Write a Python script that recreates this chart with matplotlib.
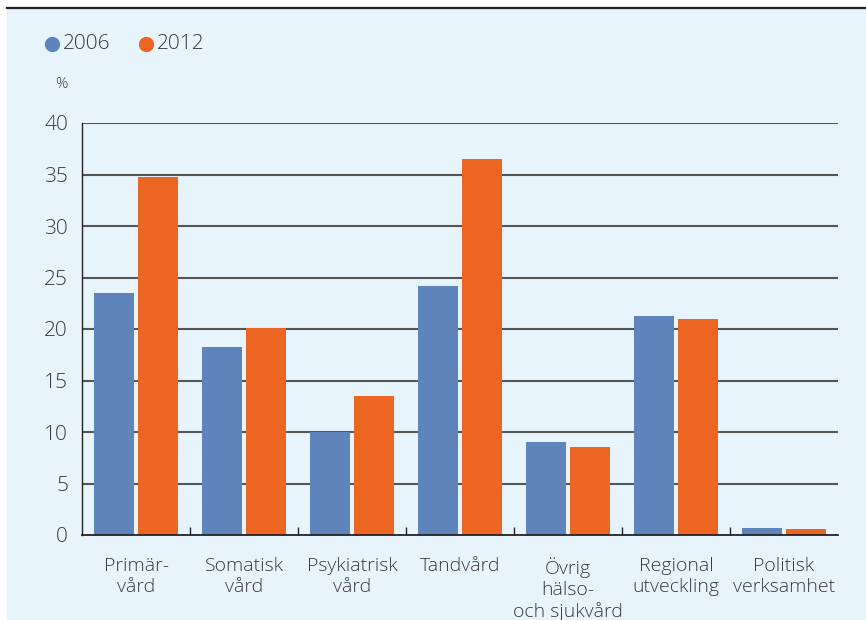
import matplotlib
matplotlib.use("Agg")
import matplotlib.pyplot as plt
from matplotlib.lines import Line2D
from matplotlib.patches import Rectangle
import numpy as np

categories = ["Primär-\nvård", "Somatisk\nvård", "Psykiatrisk\nvård", "Tandvård",
              "Övrig\nhälso-\noch sjukvård", "Regional\nutveckling", "Politisk\nverksamhet"]
series_names = ["2006", "2012"]
values_2006 = [23.5, 18.3, 10.0, 24.2, 9.0, 21.3, 0.7]
values_2012 = [34.8, 20.1, 13.5, 36.5, 8.5, 21.0, 0.6]
y_ticks = [0, 5, 10, 15, 20, 25, 30, 35, 40]

blue = "#5f84bb"
orange = "#ec6522"
bg = "#e8f4fc"
txt = "#3a3a3a"

plt.rcParams['font.family'] = ['Open Sans', 'DejaVu Sans']
plt.rcParams['font.weight'] = 'light'

W, H = 866, 620
fig = plt.figure(figsize=(W/100, H/100), dpi=100, facecolor="white")
fig.add_artist(Rectangle((7/W, 0), 1 - 7/W, 1 - 8/H, transform=fig.transFigure,
                         facecolor=bg, edgecolor="none", zorder=0))
fig.add_artist(Line2D([7/W, 1], [1 - 8/H, 1 - 8/H], transform=fig.transFigure,
                      color="#222222", lw=1.6, zorder=1))

ax = fig.add_axes([82/W, (H - 535)/H, (838 - 82)/W, (535 - 123)/H])
ax.set_facecolor("none")

x = np.arange(len(categories))
bw = 40/108
off = 22/108
ax.bar(x - off, values_2006, width=bw, color=blue, zorder=3)
ax.bar(x + off, values_2012, width=bw, color=orange, zorder=3)

ax.set_xlim(-0.5, len(categories) - 0.5)
ax.set_ylim(0, 40)
ax.set_yticks(y_ticks)
ax.set_yticklabels([str(t) for t in y_ticks], fontsize=15, color=txt)
ax.tick_params(axis='y', length=0, pad=10)
for t in y_ticks[1:]:
    ax.axhline(t, color="#555555", lw=1.5, zorder=1)

ax.set_xticks(x)
ax.set_xticklabels(categories, fontsize=14, color=txt, linespacing=1.2)
ax.tick_params(axis='x', length=0, pad=16)
ax.set_xticks(np.arange(len(categories) - 1) + 0.5, minor=True)
ax.tick_params(axis='x', which='minor', direction='in', length=6, width=1, color="#222222")

for s in ["top", "right"]:
    ax.spines[s].set_visible(False)
ax.spines["left"].set_color("#222222")
ax.spines["bottom"].set_color("#222222")
ax.spines["left"].set_linewidth(1.0)
ax.spines["bottom"].set_linewidth(1.3)
ax.spines["bottom"].set_zorder(4)

# legend
leg_x = [52, 146]
for nm, col, lx in zip(series_names, [blue, orange], leg_x):
    fig.add_artist(Line2D([lx/W], [1 - 44/H], transform=fig.transFigure, marker='o',
                          markersize=11, color=col, markeredgewidth=0, linestyle='none'))
    fig.text((lx + 11)/W, 1 - 44/H, nm, fontsize=15, color=txt, va='center', ha='left')

fig.text(61/W, 1 - 84/H, "%", fontsize=11, color=txt, va='center', ha='center')

fig.savefig("out.png", dpi=100, facecolor="white")
